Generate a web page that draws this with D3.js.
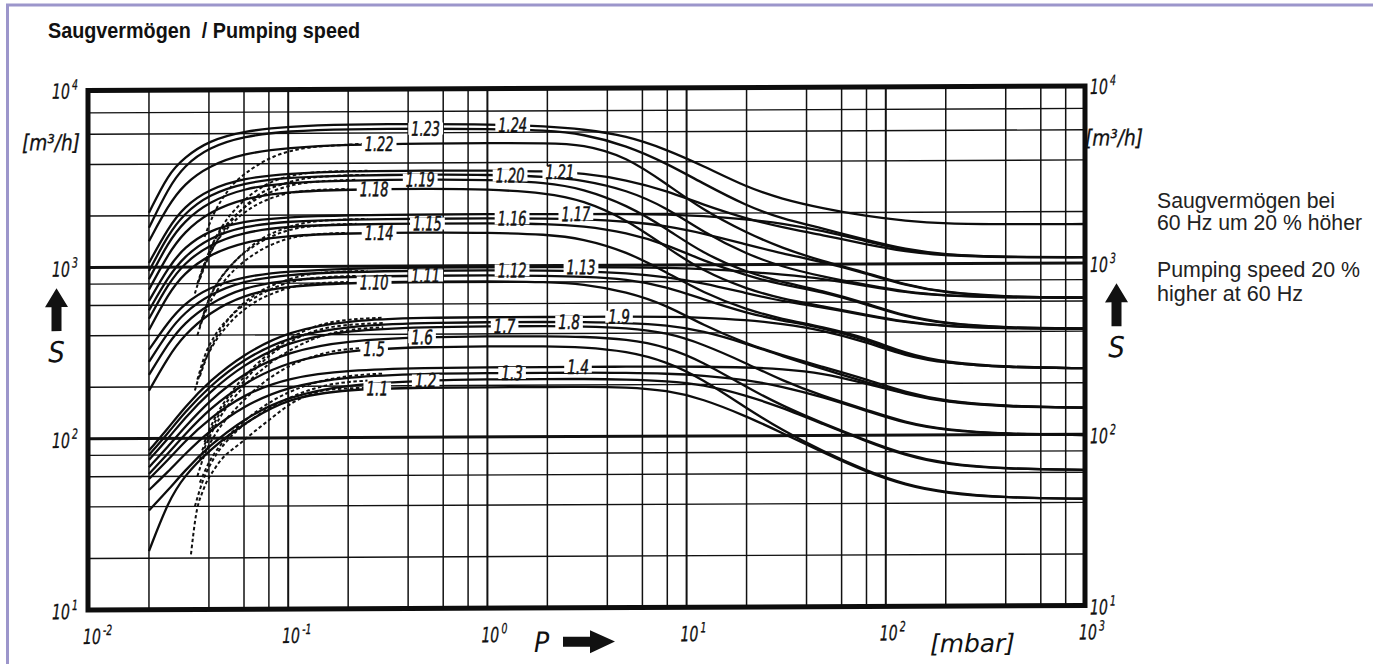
<!DOCTYPE html>
<html>
<head>
<meta charset="utf-8">
<script src="https://cdn.jsdelivr.net/npm/d3@7"></script>
<style>
body { margin: 0; background: #fff; }
svg { display: block; }
.ax { font-family: "DejaVu Sans Condensed", "DejaVu Sans", sans-serif; font-style: italic; fill: #111; }
</style>
</head>
<body>
<script>
// pressure grid [mbar] shared by the solid curves
const P = [0.02, 0.025, 0.03, 0.04, 0.06, 0.1, 0.2, 0.5, 1, 2, 3, 5, 8, 12, 20, 30, 48, 80, 125, 200, 400, 1000];

// pumping speed [m3/h] at each pressure in P
const c1_1  = [22, 43, 60, 85, 122, 172, 192, 195, 195, 195, 195, 194, 185, 165, 130, 104, 80, 61, 51, 45.5, 42.8, 42];
const c1_2  = [38, 50, 64, 90, 130, 175, 205, 215, 217, 217, 217, 215, 210, 200, 172, 146, 117, 92, 76, 67, 63, 62];
const c1_3  = [50, 64, 80, 110, 155, 200, 228, 235, 236, 236, 236, 235, 232, 226, 212, 194, 168, 139, 117, 106, 100.5, 99];
const c1_4  = [58, 75, 95, 130, 180, 225, 248, 254, 255, 255, 255, 255, 255, 254, 251, 245, 232, 200, 174, 155, 145, 143];
const c1_5  = [62, 82, 104, 148, 210, 280, 325, 337, 339, 338, 333, 315, 272, 215, 145, 108, 81, 62, 51.5, 46, 42.8, 42];
const c1_6  = [68, 90, 115, 165, 240, 320, 370, 385, 387, 386, 383, 370, 332, 272, 192, 150, 118, 93, 77, 67.8, 63, 62];
const c1_7  = [75, 100, 130, 185, 270, 365, 425, 441, 443, 443, 440, 430, 402, 345, 265, 210, 170, 141, 118.5, 107, 100.8, 99];
const c1_8  = [80, 108, 140, 200, 290, 390, 450, 466, 468, 468, 466, 460, 445, 412, 345, 292, 245, 204, 175, 156, 146, 143];
const c1_9  = [85, 115, 150, 215, 310, 420, 485, 500, 500, 500, 500, 500, 498, 492, 475, 450, 412, 350, 290, 262, 247, 243];
const c1_10 = [190, 300, 400, 540, 690, 770, 800, 811, 811, 800, 780, 700, 580, 445, 345, 295, 252, 212, 178, 157, 146.5, 143];
const c1_11 = [235, 360, 470, 610, 760, 840, 870, 879, 879, 870, 860, 830, 745, 630, 520, 470, 425, 362, 295, 263, 247, 243];
const c1_12 = [280, 420, 540, 690, 830, 900, 930, 940, 940, 935, 925, 900, 850, 785, 680, 610, 560, 500, 455, 430, 417, 414];
const c1_13 = [330, 480, 610, 760, 880, 940, 970, 979, 979, 978, 975, 970, 962, 945, 910, 872, 825, 745, 680, 648, 632, 628];
const c1_14 = [430, 700, 920, 1180, 1400, 1520, 1560, 1570, 1560, 1520, 1430, 1200, 900, 690, 545, 480, 430, 370, 300, 265, 248, 243];
const c1_15 = [500, 800, 1050, 1350, 1600, 1720, 1760, 1770, 1770, 1750, 1700, 1550, 1310, 1060, 860, 760, 690, 580, 490, 445, 419, 414];
const c1_16 = [560, 880, 1150, 1480, 1730, 1840, 1880, 1890, 1890, 1880, 1860, 1800, 1690, 1530, 1310, 1160, 1030, 880, 750, 675, 636, 628];
const c1_17 = [635, 1000, 1300, 1640, 1850, 1950, 1990, 2000, 2000, 1995, 1990, 1990, 1970, 1930, 1840, 1740, 1570, 1355, 1200, 1120, 1088, 1081];
const c1_18 = [740, 1200, 1600, 2100, 2520, 2740, 2810, 2830, 2800, 2650, 2400, 1850, 1260, 920, 720, 630, 568, 505, 458, 431, 417, 414];
const c1_19 = [850, 1400, 1850, 2400, 2880, 3100, 3180, 3200, 3180, 3050, 2800, 2250, 1620, 1170, 900, 790, 700, 590, 495, 448, 420, 414];
const c1_20 = [950, 1550, 2050, 2650, 3100, 3320, 3400, 3420, 3400, 3300, 3150, 2750, 2150, 1560, 1150, 970, 845, 755, 685, 650, 633, 628];
const c1_21 = [1060, 1700, 2250, 2850, 3300, 3500, 3600, 3610, 3600, 3550, 3450, 3150, 2700, 2250, 1850, 1650, 1480, 1300, 1180, 1110, 1085, 1081];
const c1_22 = [1420, 2300, 3050, 3900, 4600, 4950, 5150, 5200, 5200, 5180, 5100, 4300, 2950, 2100, 1530, 1250, 1040, 890, 755, 678, 637, 628];
const c1_23 = [1700, 2900, 3900, 5000, 5800, 6200, 6340, 6340, 6300, 6150, 5850, 5000, 3900, 3000, 2200, 1850, 1620, 1380, 1215, 1125, 1089, 1081];
const c1_24 = [2080, 3500, 4350, 5470, 6200, 6600, 6750, 6750, 6700, 6500, 6240, 5700, 4700, 3800, 2830, 2410, 2120, 1900, 1780, 1710, 1692, 1690];

const curveNames = ["1.1", "1.2", "1.3", "1.4", "1.5", "1.6", "1.7", "1.8", "1.9", "1.10", "1.11", "1.12",
  "1.13", "1.14", "1.15", "1.16", "1.17", "1.18", "1.19", "1.20", "1.21", "1.22", "1.23", "1.24"];
const curveSeries = [c1_1, c1_2, c1_3, c1_4, c1_5, c1_6, c1_7, c1_8, c1_9, c1_10, c1_11, c1_12,
  c1_13, c1_14, c1_15, c1_16, c1_17, c1_18, c1_19, c1_20, c1_21, c1_22, c1_23, c1_24];
// pressure where each curve carries its label
const labelP = [0.28, 0.49, 1.33, 2.85, 0.27, 0.47, 1.22, 2.57, 4.58, 0.27, 0.49, 1.33,
  2.95, 0.286, 0.50, 1.33, 2.78, 0.27, 0.46, 1.30, 2.31, 0.286, 0.49, 1.34];

// dashed start-up curves [p, S]
const d1_1  = [[0.0325, 21], [0.0345, 36], [0.0375, 50], [0.043, 67], [0.06, 97], [0.08, 127], [0.105, 160], [0.17, 192], [0.25, 195]];
const d1_2  = [[0.034, 40], [0.037, 55], [0.042, 75], [0.05, 98], [0.07, 135], [0.1, 170], [0.15, 200], [0.25, 215]];
const d1_3  = [[0.036, 55], [0.04, 72], [0.046, 92], [0.06, 125], [0.08, 160], [0.12, 200], [0.2, 228], [0.3, 236]];
const d1_5  = [[0.035, 60], [0.038, 80], [0.043, 105], [0.055, 150], [0.075, 210], [0.1, 260], [0.15, 310], [0.25, 335]];
const d1_7  = [[0.036, 75], [0.04, 100], [0.046, 135], [0.06, 200], [0.08, 270], [0.11, 340], [0.17, 410], [0.3, 440]];
const d1_8  = [[0.037, 85], [0.041, 112], [0.047, 150], [0.06, 215], [0.08, 300], [0.11, 380], [0.17, 445], [0.3, 466]];
const d1_9  = [[0.038, 95], [0.042, 125], [0.05, 175], [0.065, 250], [0.085, 330], [0.12, 420], [0.18, 480], [0.3, 500]];
const d1_10 = [[0.034, 190], [0.037, 260], [0.042, 350], [0.05, 460], [0.065, 600], [0.09, 720], [0.13, 790], [0.2, 811]];
const d1_11 = [[0.035, 220], [0.038, 300], [0.043, 400], [0.052, 520], [0.068, 660], [0.095, 790], [0.14, 860], [0.22, 879]];
const d1_12 = [[0.036, 230], [0.04, 320], [0.046, 430], [0.055, 560], [0.07, 700], [0.1, 840], [0.15, 920], [0.25, 940]];
const d1_14 = [[0.035, 400], [0.038, 530], [0.043, 700], [0.05, 880], [0.065, 1150], [0.09, 1400], [0.13, 1530], [0.2, 1570]];
const d1_15 = [[0.036, 450], [0.039, 600], [0.044, 800], [0.052, 1030], [0.068, 1330], [0.095, 1600], [0.14, 1730], [0.22, 1770]];
const d1_16 = [[0.037, 500], [0.04, 650], [0.046, 860], [0.055, 1100], [0.07, 1400], [0.1, 1700], [0.15, 1850], [0.25, 1890]];
const d1_18 = [[0.034, 700], [0.037, 950], [0.042, 1300], [0.05, 1700], [0.065, 2200], [0.09, 2600], [0.13, 2780], [0.2, 2830]];
const d1_19 = [[0.035, 800], [0.038, 1050], [0.043, 1450], [0.052, 1900], [0.068, 2450], [0.095, 2900], [0.14, 3130], [0.22, 3200]];
const d1_20 = [[0.036, 850], [0.04, 1150], [0.046, 1550], [0.055, 2000], [0.07, 2600], [0.1, 3100], [0.15, 3350], [0.25, 3420]];
const d1_21 = [[0.037, 950], [0.041, 1300], [0.047, 1750], [0.057, 2300], [0.075, 2950], [0.105, 3400], [0.16, 3580], [0.25, 3610]];
const d1_22 = [[0.038, 1500], [0.042, 2000], [0.05, 2800], [0.065, 3700], [0.085, 4400], [0.12, 4900], [0.18, 5100], [0.25, 5200]];
const dashedSeries = [d1_1, d1_2, d1_3, d1_5, d1_7, d1_8, d1_9, d1_10, d1_11, d1_12, d1_14, d1_15, d1_16, d1_18, d1_19, d1_20, d1_21, d1_22];

// grid and tick values
const xGrid = [0.02, 0.04, 0.06, 0.08, 0.2, 0.4, 0.6, 0.8, 2, 4, 6, 8, 20, 40, 60, 80, 200, 400, 600, 800];
const xMajor = [0.1, 1, 10, 100];
const yGrid = [20, 40, 60, 80, 200, 400, 600, 800, 2000, 4000, 6000, 8000];
const yMajor = [100, 1000];
const xTicks = [0.01, 0.1, 1, 10, 100, 1000];
const yTicks = [10, 100, 1000, 10000];

const W = 1373, H = 664;
const svg = d3.select("body").append("svg").attr("width", W).attr("height", H);
svg.append("rect").attr("width", W).attr("height", H).attr("fill", "#fff");

// page frame (only top and left edges are visible)
svg.append("path").attr("d", "M7.5,664 V5 H1373")
  .attr("fill", "none").attr("stroke", "#9c96cb").attr("stroke-width", 3);

svg.append("text").attr("x", 48).attr("y", 38)
  .style("white-space", "pre")
  .attr("font-family", "'Liberation Sans', Arial, sans-serif")
  .attr("font-weight", "bold").attr("font-size", 22.5).attr("fill", "#111")
  .attr("textLength", 312).attr("lengthAdjust", "spacingAndGlyphs")
  .text("Saugvermögen  / Pumping speed");

const notes = [["Saugvermögen bei", 208, 178], ["60 Hz um 20 % höher", 230, 205], ["Pumping speed 20 %", 277, 203], ["higher at 60 Hz", 301, 146]];
notes.forEach(n => {
  svg.append("text").attr("x", 1157).attr("y", n[1])
    .attr("font-family", "'Liberation Sans', Arial, sans-serif")
    .attr("font-size", 21.5).attr("fill", "#222")
    .attr("textLength", n[2]).attr("lengthAdjust", "spacingAndGlyphs").text(n[0]);
});

const x = d3.scaleLog().domain([0.01, 1000]).range([89, 1085]);
const y = d3.scaleLog().domain([10, 10000]).range([610, 96.3]);

// the scanned sheet is very slightly tilted
const g = svg.append("g").attr("transform", "translate(89,610) skewY(-0.26) translate(-89,-610)");

const grid = g.append("g").attr("stroke", "#111").attr("fill", "none");
grid.selectAll(".vx").data(xGrid).enter().append("line")
  .attr("x1", d => x(d)).attr("x2", d => x(d)).attr("y1", 90).attr("y2", 610).attr("stroke-width", 1.5);
grid.selectAll(".vm").data(xMajor).enter().append("line")
  .attr("x1", d => x(d)).attr("x2", d => x(d)).attr("y1", 90).attr("y2", 610).attr("stroke-width", 2);
grid.selectAll(".hy").data(yGrid).enter().append("line")
  .attr("x1", 88).attr("x2", 1085).attr("y1", d => y(d)).attr("y2", d => y(d)).attr("stroke-width", 1.4);
grid.selectAll(".hm").data(yMajor).enter().append("line")
  .attr("x1", 88).attr("x2", 1085).attr("y1", d => y(d)).attr("y2", d => y(d)).attr("stroke-width", 3);

const dashLine = d3.line().x(d => x(d[0])).y(d => y(d[1])).curve(d3.curveMonotoneX);
const line = d3.line().x(d => x(d[0])).y(d => y(d[1])).curve(d3.curveBasis);

g.append("g").selectAll("path").data(dashedSeries).enter().append("path")
  .attr("d", dashLine).attr("fill", "none").attr("stroke", "#111")
  .attr("stroke-width", 2).attr("stroke-dasharray", "3.5,2.5");

g.append("g").selectAll("path").data(curveSeries).enter().append("path")
  .attr("d", s => line(P.map((p, i) => [p, s[i]])))
  .attr("fill", "none").attr("stroke", "#0d0d0d").attr("stroke-width", 2.3);

function valueAt(s, p) {
  let i = 0;
  while (i < P.length - 2 && P[i + 1] < p) i++;
  const t = (Math.log(p) - Math.log(P[i])) / (Math.log(P[i + 1]) - Math.log(P[i]));
  return Math.exp(Math.log(s[i]) + t * (Math.log(s[i + 1]) - Math.log(s[i])));
}

// curve labels cut a gap into the lines
const labels = g.append("g");
curveNames.forEach((name, k) => {
  const lx = x(labelP[k]), ly = y(valueAt(curveSeries[k], labelP[k]));
  const w = name.length * 7.2;
  const lg = labels.append("g");
  lg.append("rect").attr("x", lx - w / 2 - 3).attr("y", ly - 6)
    .attr("width", w + 6).attr("height", 12).attr("fill", "#fff");
  lg.append("text").attr("class", "ax").attr("x", lx - w / 2).attr("y", ly + 7)
    .attr("font-size", 20).attr("stroke", "#111").attr("stroke-width", 0.5)
    .attr("textLength", w).attr("lengthAdjust", "spacingAndGlyphs").text(name);
});

// frame
g.append("path").attr("d", "M88,90.5 H1085 V610 H88 Z")
  .attr("fill", "none").attr("stroke", "#0d0d0d").attr("stroke-width", 5);

function pow10(px, py, e) {
  const t = g.append("text").attr("class", "ax")
    .attr("transform", `translate(${px},${py}) scale(0.74,1)`).attr("font-size", 21)
    .attr("stroke", "#111").attr("stroke-width", 0.3);
  t.append("tspan").attr("x", 0).attr("y", 0).text("10");
  t.append("tspan").attr("dx", 3).attr("dy", -9).attr("font-size", 14).text(String(e));
}
yTicks.forEach(v => {
  const e = Math.round(Math.log10(v));
  const py = v === 10000 ? 98.5 : y(v) + 9;
  pow10(52, py, e);
  pow10(1090, py, e);
});
xTicks.forEach(v => pow10(x(v) - 6, 644, Math.round(Math.log10(v))));

// axis titles
[22, 1085].forEach(tx => {
  g.append("text").attr("class", "ax").attr("x", tx).attr("y", 150).attr("font-size", 22)
    .attr("stroke", "#111").attr("stroke-width", 0.3)
    .attr("textLength", 58).attr("lengthAdjust", "spacingAndGlyphs").text("[m³/h]");
});
[56.5, 1116.5].forEach(cx => {
  g.append("path").attr("fill", "#111")
    .attr("d", `M${cx},288 L${cx + 11.5},307 L${cx + 5},307 L${cx + 5},331 L${cx - 5},331 L${cx - 5},307 L${cx - 11.5},307 Z`);
  g.append("text").attr("class", "ax").attr("x", cx).attr("y", 362)
    .attr("text-anchor", "middle").attr("font-size", 29).text("S");
});
g.append("text").attr("class", "ax").attr("x", 534).attr("y", 654).attr("font-size", 28).text("P");
g.append("path").attr("fill", "#111")
  .attr("d", "M563,639 L590,639 L590,632.5 L615,644 L590,655.5 L590,649 L563,649 Z");
g.append("text").attr("class", "ax").attr("x", 930).attr("y", 656).attr("font-size", 25)
  .attr("textLength", 85).attr("lengthAdjust", "spacingAndGlyphs").text("[mbar]");
</script>
</body>
</html>
